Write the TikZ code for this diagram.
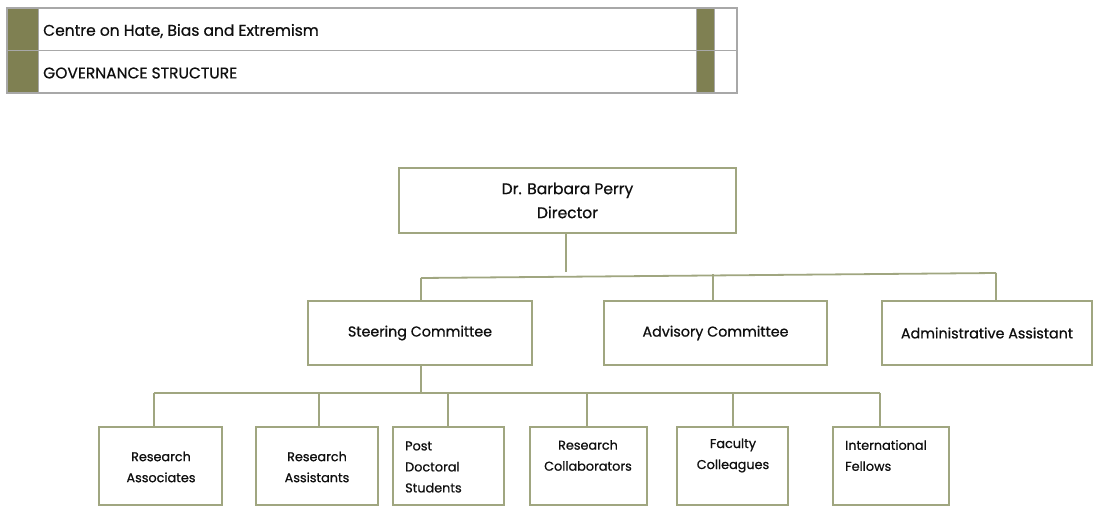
\documentclass[tikz,border=0pt]{standalone}
\usepackage{fontspec}
\setmainfont{Poppins}[FakeBold=0.7]
\definecolor{boxline}{RGB}{160,166,128}
\definecolor{hdrgray}{RGB}{168,168,168}
\definecolor{hdrolive}{RGB}{127,128,82}
\definecolor{txt}{RGB}{15,15,15}
\tikzset{
  orgbox/.style={draw=boxline, line width=1.8pt, fill=white, inner sep=0pt, text=txt},
  conn/.style={draw=boxline, line width=1.8pt},
  hdrtext/.style={anchor=west, inner sep=0pt, text=txt, font=\fontsize{15.5}{18}\selectfont},
  midtext/.style={font=\fontsize{14.3}{18}\selectfont},
  smalltext/.style={font=\fontsize{12.8}{21}\selectfont, align=center, text=txt, inner sep=0pt},
}
\begin{document}
\begin{tikzpicture}[x=1pt,y=-1pt]
\useasboundingbox (0,0) rectangle (1096,506);
% header table
\fill[hdrolive] (8,8) rectangle (38,93);
\fill[hdrolive] (696,8) rectangle (714,93);
\draw[hdrgray, line width=1.6pt] (7,8) rectangle (737,93);
\draw[hdrgray, line width=1.2pt] (7,50.5) -- (737,50.5);
\draw[hdrgray, line width=1pt] (38,8) -- (38,93) (696,8) -- (696,93) (714,8) -- (714,93);
\node[hdrtext] (h1) at (43,31) {Centre on Hate, Bias and Extremism};
\node[hdrtext] (h2) at (43,73) {GOVERNANCE STRUCTURE};

% top level
\node[orgbox, minimum width=337pt, minimum height=65pt, align=center, font=\fontsize{15.5}{24}\selectfont] (dir) at (567.5,200.5) {Dr. Barbara Perry\\Director};
\node[orgbox, minimum width=224pt, minimum height=64pt, midtext] (steer) at (420,333) {Steering Committee};
\node[orgbox, minimum width=223pt, minimum height=64pt, midtext] (adv) at (715.5,333) {Advisory Committee};
\node[orgbox, minimum width=210pt, minimum height=64pt, midtext] (admin) at (987,333) {Administrative Assistant};

\coordinate (hL) at (421,278);
\coordinate (hM) at (713,274);
\coordinate (hR) at (996,273);
\coordinate (dirend) at (566,272);
\draw[conn] (dir.south -| dirend) -- (dirend);
\draw[conn] (hL) -- (hR);
\draw[conn] (hL) -- (hL |- steer.north);
\draw[conn] (hM) -- (hM |- adv.north);
\draw[conn] (hR) -- (hR |- admin.north);

% bottom level boxes
\node[orgbox, minimum width=123pt, minimum height=78pt] (ra) at (160.5,466) {};
\node[orgbox, minimum width=122pt, minimum height=78pt] (rs) at (317,466) {};
\node[orgbox, minimum width=111pt, minimum height=78pt] (pd) at (448.5,466) {};
\node[orgbox, minimum width=117pt, minimum height=78pt] (rc) at (588.5,466) {};
\node[orgbox, minimum width=111pt, minimum height=78pt] (fc) at (732.5,466) {};
\node[orgbox, minimum width=116pt, minimum height=78pt] (if) at (891,466) {};

\node[smalltext] (tra) at (161,467) {Research\\Associates};
\node[smalltext] (trs) at (317,467) {Research\\Assistants};
\node[smalltext, align=left, anchor=west] (tpd) at (405,467) {Post\\Doctoral\\Students};
\node[smalltext] (trc) at (588,455.5) {Research\\Collaborators};
\node[smalltext] (tfc) at (733,455.5) {Faculty\\Colleagues};
\node[smalltext, align=left, anchor=west] (tif) at (845,455.5) {International\\Fellows};

\coordinate (bL) at (154,393);
\coordinate (bR) at (880,393);
\draw[conn] (steer.south -| hL) -- (hL |- bL);
\draw[conn] (bL) -- (bR);
\foreach \n/\x in {ra/154, rs/319, pd/448, rc/587, fc/733, if/880}{
  \draw[conn] (\x,393) -- (\x,393 |- \n.north);
}
\end{tikzpicture}
\end{document}
